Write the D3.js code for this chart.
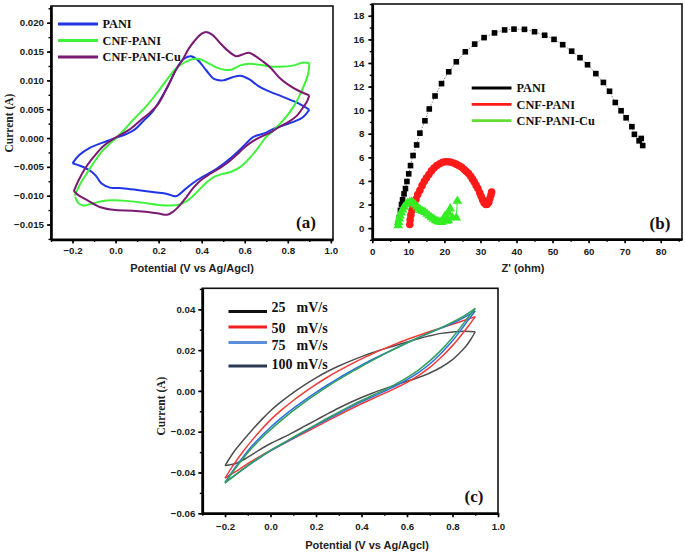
<!DOCTYPE html>
<html><head><meta charset="utf-8">
<script src="https://cdn.jsdelivr.net/npm/d3@7"></script>
<style>body{margin:0;background:#fff}svg{display:block}</style>
</head><body>
<svg id="fig" width="685" height="553"></svg>
<script>
// ---------------- DATA ----------------
// Panel (a): CV of PANI, CNF-PANI, CNF-PANI-Cu  [E (V), I (A)]
const seriesA = ["PANI", "CNF-PANI", "CNF-PANI-Cu"];
const paniUp = [[-0.2,-0.0044],[-0.17,-0.0030],[-0.12,-0.0017],[-0.06,-0.0008],[0.0,0.0],[0.05,0.0007],[0.09,0.0015],[0.13,0.0030],[0.17,0.0045],[0.21,0.0068],[0.25,0.0095],[0.29,0.0125],[0.32,0.0138],[0.35,0.0142],[0.38,0.0136],[0.42,0.0118],[0.46,0.0102],[0.5,0.0100],[0.54,0.0105],[0.58,0.0108],[0.62,0.0102],[0.66,0.0091],[0.70,0.0083],[0.78,0.0071],[0.85,0.0060],[0.9,0.0049]];
const paniDown = [[0.9,0.0049],[0.87,0.0036],[0.826,0.0028],[0.78,0.0022],[0.733,0.0016],[0.69,0.0008],[0.64,0.0002],[0.6,-0.0012],[0.55,-0.0030],[0.5,-0.0045],[0.45,-0.0058],[0.4,-0.0068],[0.36,-0.0078],[0.32,-0.0090],[0.28,-0.0101],[0.24,-0.0097],[0.18,-0.0094],[0.1,-0.0090],[0.03,-0.0087],[-0.026,-0.0086],[-0.065,-0.0079],[-0.09,-0.0066],[-0.12,-0.0056],[-0.165,-0.0048],[-0.2,-0.0044]];
const cnfUp = [[-0.19,-0.0100],[-0.165,-0.0080],[-0.135,-0.0062],[-0.1,-0.0042],[-0.07,-0.0026],[-0.03,-0.0011],[0.005,0.0001],[0.04,0.0014],[0.08,0.0031],[0.14,0.0054],[0.2,0.0082],[0.24,0.0102],[0.28,0.0120],[0.32,0.0131],[0.36,0.0137],[0.39,0.0137],[0.43,0.0130],[0.47,0.0122],[0.51,0.0118],[0.54,0.0119],[0.58,0.0126],[0.62,0.0129],[0.67,0.0127],[0.72,0.0124],[0.78,0.0124],[0.83,0.0126],[0.87,0.0131],[0.9,0.0130]];
const cnfDown = [[0.9,0.0130],[0.895,0.0112],[0.873,0.0089],[0.85,0.0070],[0.826,0.0054],[0.795,0.0038],[0.764,0.0025],[0.73,0.0012],[0.7,0.0002],[0.66,-0.0018],[0.62,-0.0036],[0.58,-0.0050],[0.54,-0.0058],[0.5,-0.0062],[0.46,-0.0067],[0.42,-0.0078],[0.38,-0.0093],[0.34,-0.0107],[0.3,-0.0115],[0.26,-0.0117],[0.2,-0.0116],[0.12,-0.0112],[0.05,-0.0109],[-0.01,-0.0108],[-0.07,-0.0110],[-0.12,-0.0115],[-0.15,-0.0117],[-0.175,-0.0112],[-0.188,-0.0102]];
const cuUp = [[-0.194,-0.0092],[-0.17,-0.0072],[-0.14,-0.0052],[-0.1,-0.0032],[-0.06,-0.0015],[-0.02,-0.0004],[0.02,0.0005],[0.07,0.0016],[0.12,0.0032],[0.16,0.0044],[0.2,0.0060],[0.24,0.0088],[0.28,0.0118],[0.31,0.0135],[0.34,0.0155],[0.37,0.0170],[0.4,0.0181],[0.42,0.0184],[0.45,0.0179],[0.48,0.0167],[0.52,0.0152],[0.56,0.0142],[0.59,0.0145],[0.62,0.0148],[0.65,0.0142],[0.68,0.0134],[0.72,0.0122],[0.76,0.0105],[0.8,0.0093],[0.85,0.0082],[0.9,0.0074]];
const cuDown = [[0.9,0.0074],[0.89,0.0064],[0.873,0.0054],[0.84,0.0038],[0.8,0.0027],[0.764,0.0020],[0.72,0.0010],[0.68,0.0003],[0.64,-0.0005],[0.6,-0.0016],[0.56,-0.0030],[0.52,-0.0043],[0.48,-0.0053],[0.44,-0.0062],[0.4,-0.0072],[0.36,-0.0087],[0.33,-0.0102],[0.3,-0.0116],[0.27,-0.0127],[0.24,-0.0133],[0.2,-0.0131],[0.14,-0.0128],[0.08,-0.0126],[0.0,-0.0125],[-0.07,-0.0120],[-0.13,-0.0108],[-0.17,-0.0100],[-0.194,-0.0092]];
const xTicksA = [-0.2,0.0,0.2,0.4,0.6,0.8,1.0];
const yTicksA = [-0.015,-0.010,-0.005,0.000,0.005,0.010,0.015,0.020];

// Panel (b): Nyquist plots  [Z' (ohm), -Z'' (ohm)]
const seriesB = ["PANI", "CNF-PANI", "CNF-PANI-Cu"];
const nyqPANI = [[7.2,0.35],[7.5,0.9],[7.8,1.5],[8.1,2.0],[8.4,2.4],[8.8,2.9],[9.2,3.35],[9.6,3.95],[10.1,4.6],[10.6,5.3],[11.3,6.15],[12.3,7.05],[13.2,8.05],[14.6,9.1],[15.8,10.1],[17.4,11.2],[19.2,12.25],[21.2,13.25],[23.3,14.1],[25.8,14.95],[28.4,15.6],[31.0,16.15],[33.9,16.55],[36.7,16.8],[39.3,16.87],[42.2,16.85],[45.0,16.65],[47.8,16.35],[50.4,16.0],[52.8,15.55],[55.3,15.0],[57.6,14.45],[59.7,13.85],[62.0,13.1],[64.1,12.35],[65.8,11.6],[67.4,10.65],[69.0,9.95],[70.4,9.35],[72.0,8.6],[72.7,7.95],[74.0,7.4],[74.6,7.6],[75.0,7.0]];
const nyqCNF = [[10.4,0.3],[10.5,0.7],[10.7,1.1],[11.0,1.5],[11.3,1.85],[11.7,2.2],[12.1,2.45],[12.6,2.85],[13.2,3.2],[13.8,3.6],[14.4,3.95],[15.0,4.25],[15.7,4.55],[16.4,4.85],[17.1,5.1],[17.9,5.3],[18.7,5.45],[19.5,5.58],[20.3,5.63],[21.1,5.63],[21.9,5.58],[22.7,5.5],[23.4,5.4],[24.1,5.28],[24.8,5.15],[25.5,4.97],[26.1,4.8],[26.7,4.62],[27.3,4.4],[27.8,4.15],[28.3,3.9],[28.8,3.62],[29.3,3.35],[29.8,3.0],[30.2,2.7],[30.6,2.4],[31.0,2.15],[31.5,2.0],[31.9,2.02],[32.3,2.2],[32.6,2.5],[32.9,2.8],[33.1,3.05]];
const nyqCu = [[7.2,0.22],[7.3,0.5],[7.5,0.8],[7.7,1.05],[8.0,1.3],[8.4,1.55],[8.8,1.8],[9.3,2.0],[9.8,2.12],[10.4,2.2],[10.9,2.2],[11.4,2.12],[11.9,1.98],[12.4,1.82],[12.9,1.65],[13.4,1.52],[14.0,1.42],[14.6,1.35],[15.2,1.2],[15.8,1.05],[16.4,0.9],[17.0,0.78],[17.6,0.65],[18.2,0.57],[18.8,0.52],[19.3,0.5],[19.8,0.75],[20.2,1.05],[20.6,0.6],[21.1,1.3],[21.6,1.65],[21.1,0.65],[22.2,0.9],[23.3,0.88],[23.6,2.3]];
const xTicksB = [0,10,20,30,40,50,60,70,80];
const yTicksB = [0,2,4,6,8,10,12,14,16,18];

// Panel (c): CV at different scan rates  [E (V), I (A)]
const seriesC = ["25", "50", "75", "100"];
const r25Up = [[-0.2,-0.0366],[-0.16,-0.0297],[-0.12,-0.0242],[-0.08,-0.0190],[-0.04,-0.0142],[0.0,-0.0097],[0.05,-0.0050],[0.1,-0.0008],[0.15,0.0030],[0.2,0.0064],[0.25,0.0095],[0.3,0.0122],[0.35,0.0146],[0.4,0.0168],[0.45,0.0188],[0.5,0.0206],[0.55,0.0223],[0.6,0.0240],[0.65,0.0256],[0.7,0.0270],[0.75,0.0282],[0.8,0.0289],[0.85,0.0292],[0.9,0.0290]];
const r25Down = [[0.9,0.0290],[0.88,0.0252],[0.86,0.0220],[0.83,0.0185],[0.8,0.0153],[0.75,0.0116],[0.7,0.0088],[0.65,0.0066],[0.6,0.0047],[0.55,0.0029],[0.5,0.0010],[0.45,-0.0010],[0.4,-0.0032],[0.35,-0.0057],[0.3,-0.0084],[0.25,-0.0113],[0.2,-0.0143],[0.15,-0.0173],[0.1,-0.0203],[0.05,-0.0231],[0.0,-0.0258],[-0.05,-0.0290],[-0.1,-0.0325],[-0.15,-0.0355],[-0.2,-0.0366]];
const r50Up = [[-0.2,-0.0428],[-0.16,-0.0358],[-0.12,-0.0296],[-0.08,-0.0240],[-0.04,-0.0189],[0.0,-0.0142],[0.05,-0.0092],[0.1,-0.0047],[0.15,-0.0006],[0.2,0.0032],[0.25,0.0067],[0.3,0.0099],[0.35,0.0129],[0.4,0.0157],[0.45,0.0183],[0.5,0.0207],[0.55,0.0230],[0.6,0.0252],[0.65,0.0272],[0.7,0.0291],[0.75,0.0309],[0.8,0.0327],[0.85,0.0345],[0.9,0.0364]];
const r50Down = [[0.9,0.0364],[0.87,0.0318],[0.84,0.0275],[0.8,0.0222],[0.75,0.0165],[0.7,0.0115],[0.65,0.0075],[0.6,0.0042],[0.55,0.0014],[0.5,-0.0012],[0.45,-0.0037],[0.4,-0.0063],[0.35,-0.0090],[0.3,-0.0118],[0.25,-0.0147],[0.2,-0.0176],[0.15,-0.0205],[0.1,-0.0234],[0.05,-0.0263],[0.0,-0.0292],[-0.05,-0.0323],[-0.1,-0.0357],[-0.15,-0.0393],[-0.2,-0.0428]];
const r75Up = [[-0.2,-0.0448],[-0.16,-0.0382],[-0.12,-0.0322],[-0.08,-0.0268],[-0.04,-0.0221],[0.0,-0.0178],[0.05,-0.0130],[0.1,-0.0086],[0.15,-0.0045],[0.2,-0.0007],[0.25,0.0029],[0.3,0.0063],[0.35,0.0095],[0.4,0.0126],[0.45,0.0155],[0.5,0.0183],[0.55,0.0210],[0.6,0.0236],[0.65,0.0261],[0.7,0.0285],[0.75,0.0308],[0.8,0.0331],[0.85,0.0359],[0.9,0.0392]];
const r75Down = [[0.9,0.0392],[0.87,0.0348],[0.84,0.0303],[0.8,0.0246],[0.75,0.0185],[0.7,0.0132],[0.65,0.0090],[0.6,0.0055],[0.55,0.0025],[0.5,-0.0002],[0.45,-0.0028],[0.4,-0.0054],[0.35,-0.0081],[0.3,-0.0110],[0.25,-0.0139],[0.2,-0.0169],[0.15,-0.0200],[0.1,-0.0231],[0.05,-0.0262],[0.0,-0.0294],[-0.05,-0.0329],[-0.1,-0.0368],[-0.15,-0.0408],[-0.2,-0.0448]];
const r100Up = [[-0.2,-0.0452],[-0.16,-0.0388],[-0.12,-0.0330],[-0.08,-0.0278],[-0.04,-0.0232],[0.0,-0.0190],[0.05,-0.0142],[0.1,-0.0097],[0.15,-0.0055],[0.2,-0.0016],[0.25,0.0021],[0.3,0.0056],[0.35,0.0089],[0.4,0.0121],[0.45,0.0151],[0.5,0.0180],[0.55,0.0208],[0.6,0.0235],[0.65,0.0261],[0.7,0.0286],[0.75,0.0310],[0.8,0.0337],[0.85,0.0367],[0.9,0.0405]];
const r100Down = [[0.9,0.0405],[0.87,0.0362],[0.84,0.0318],[0.8,0.0262],[0.75,0.0200],[0.7,0.0147],[0.65,0.0102],[0.6,0.0065],[0.55,0.0033],[0.5,0.0005],[0.45,-0.0021],[0.4,-0.0047],[0.35,-0.0075],[0.3,-0.0104],[0.25,-0.0134],[0.2,-0.0165],[0.15,-0.0196],[0.1,-0.0227],[0.05,-0.0259],[0.0,-0.0291],[-0.05,-0.0327],[-0.1,-0.0366],[-0.15,-0.0408],[-0.2,-0.0452]];
const xTicksC = [-0.2,0.0,0.2,0.4,0.6,0.8,1.0];
const yTicksC = [-0.06,-0.04,-0.02,0.00,0.02,0.04];

// ---------------- DRAW ----------------
const svg = d3.select("#fig");
svg.append("rect").attr("width",685).attr("height",553).attr("fill","#fff");
const SANS = "'Liberation Sans', Arial, sans-serif";
const SERIF = "'Liberation Serif', 'Times New Roman', serif";

function panel(o) {
  const x = d3.scaleLinear().domain(o.xd).range([o.x0, o.x1]);
  const y = d3.scaleLinear().domain(o.yd).range([o.y1, o.y0]);
  const g = svg.append("g");
  g.append("rect").attr("x",o.x0).attr("y",o.y0).attr("width",o.x1-o.x0).attr("height",o.y1-o.y0)
    .attr("fill","none").attr("stroke","#111").attr("stroke-width",1.6);
  const styleAxis = (sel) => {
    sel.select(".domain").attr("stroke","#000").attr("stroke-width",2.6);
    sel.selectAll(".tick line").attr("stroke","#000").attr("stroke-width",1.6);
    sel.selectAll(".tick text").attr("font-family",SANS).attr("font-weight","bold")
      .attr("font-size","9.7px").attr("fill","#1a1a1a");
  };
  g.append("g").attr("transform",`translate(0,${o.y1})`)
    .call(d3.axisBottom(x).tickValues(o.xMinor).tickSize(2.5).tickSizeOuter(0).tickFormat(""))
    .call(s=>{s.select(".domain").remove(); s.selectAll(".tick line").attr("stroke","#000").attr("stroke-width",1.4);});
  g.append("g").attr("transform",`translate(${o.x0},0)`)
    .call(d3.axisLeft(y).tickValues(o.yMinor).tickSize(2.5).tickSizeOuter(0).tickFormat(""))
    .call(s=>{s.select(".domain").remove(); s.selectAll(".tick line").attr("stroke","#000").attr("stroke-width",1.4);});
  g.append("g").attr("transform",`translate(0,${o.y1})`)
    .call(d3.axisBottom(x).tickValues(o.xt).tickSize(4).tickSizeOuter(0).tickPadding(o.xPad).tickFormat(d3.format(o.xf)))
    .call(styleAxis);
  g.append("g").attr("transform",`translate(${o.x0},0)`)
    .call(d3.axisLeft(y).tickValues(o.yt).tickSize(4).tickSizeOuter(0).tickPadding(o.yPad).tickFormat(d3.format(o.yf)))
    .call(styleAxis);
  return {g, x, y};
}

function minorVals(lo, hi, step) {
  const out = [];
  const n = Math.round((hi - lo) / step);
  for (let i = 0; i <= n; i++) out.push(+(lo + i * step).toFixed(6));
  return out;
}

// ---- Panel (a)
{
  const P = panel({x0:51, x1:333, y0:6, y1:239.5, xd:[-0.3,1.01], yd:[-0.0176,0.0229],
    xt:xTicksA, yt:yTicksA, xf:".1f", yf:".3f", xPad:4, yPad:3,
    xMinor:minorVals(-0.3,1.0,0.1), yMinor:minorVals(-0.0175,0.0225,0.0025)});
  const line = d3.line().x(d=>P.x(d[0])).y(d=>P.y(d[1])).curve(d3.curveCatmullRom.alpha(0.5));
  const colA = ["#1f35e6", "#3ff23a", "#7b1a72"];
  const loops = [[paniUp,paniDown],[cnfUp,cnfDown],[cuUp,cuDown]];
  loops.forEach((lp,i)=>lp.forEach(arr=>P.g.append("path").attr("d",line(arr)).attr("fill","none")
      .attr("stroke",colA[i]).attr("stroke-width",2)));
  const leg = P.g.append("g");
  seriesA.forEach((s,i)=>{
    const yy = 24 + i*16.5;
    leg.append("line").attr("x1",58).attr("x2",98).attr("y1",yy).attr("y2",yy).attr("stroke",colA[i]).attr("stroke-width",2.8);
    leg.append("text").attr("x",102.5).attr("y",yy+4.3).text(s).attr("font-family",SERIF)
      .attr("font-weight","bold").attr("font-size","12.3px").attr("fill","#111");
  });
  P.g.append("text").attr("x",306).attr("y",228).attr("text-anchor","middle").text("(a)")
    .attr("font-family",SERIF).attr("font-weight","bold").attr("font-size","17px").attr("fill","#111");
  P.g.append("text").attr("x",192).attr("y",272).attr("text-anchor","middle").text("Potential (V vs Ag/Agcl)")
    .attr("font-family",SANS).attr("font-weight","bold").attr("font-size","11px").attr("fill","#222");
  P.g.append("text").attr("transform","translate(12.5,123) rotate(-90)").attr("text-anchor","middle").text("Current (A)")
    .attr("font-family",SERIF).attr("font-weight","bold").attr("font-size","11.5px").attr("fill","#222");
}

// ---- Panel (b)
{
  const P = panel({x0:372.3, x1:682, y0:4, y1:239.3, xd:[0,85.9], yd:[-0.95,19],
    xt:xTicksB, yt:yTicksB, xf:"d", yf:"d", xPad:5, yPad:4,
    xMinor:minorVals(0,85,5), yMinor:minorVals(-1,19,1)});
  const x = P.x, y = P.y;
  const line = d3.line().x(d=>x(d[0])).y(d=>y(d[1]));
  P.g.append("path").attr("d",line(nyqPANI)).attr("fill","none").attr("stroke","#666")
    .attr("stroke-width",0.8).attr("stroke-dasharray","1.5,1.5");
  P.g.append("path").attr("d",line(nyqCNF)).attr("fill","none").attr("stroke","#f33").attr("stroke-width",1);
  P.g.append("path").attr("d",line(nyqCu)).attr("fill","none").attr("stroke","#3e3").attr("stroke-width",1);
  P.g.append("g").selectAll("rect").data(nyqPANI).join("rect")
    .attr("x",d=>x(d[0])-2.8).attr("y",d=>y(d[1])-2.8).attr("width",5.6).attr("height",5.6).attr("fill","#000");
  P.g.append("g").selectAll("circle").data(nyqCNF).join("circle")
    .attr("cx",d=>x(d[0])).attr("cy",d=>y(d[1])).attr("r",3.8).attr("fill","#ff1a1a");
  const tri = d3.symbol().type(d3.symbolTriangle).size(40);
  P.g.append("g").selectAll("path").data(nyqCu).join("path")
    .attr("transform",d=>`translate(${x(d[0])},${y(d[1])})`).attr("d",tri).attr("fill","#33ee22");
  const colB = ["#000", "#ff1a1a", "#66dd33"];
  seriesB.forEach((s,i)=>{
    const yy = 88 + i*16.3;
    P.g.append("line").attr("x1",471.7).attr("x2",511.5).attr("y1",yy).attr("y2",yy).attr("stroke",colB[i]).attr("stroke-width",2.8);
    P.g.append("text").attr("x",516.5).attr("y",yy+4.3).text(s).attr("font-family",SERIF)
      .attr("font-weight","bold").attr("font-size","12.3px").attr("fill","#111");
  });
  P.g.append("text").attr("x",660).attr("y",229).attr("text-anchor","middle").text("(b)")
    .attr("font-family",SERIF).attr("font-weight","bold").attr("font-size","17px").attr("fill","#111");
  P.g.append("text").attr("x",523).attr("y",272).attr("text-anchor","middle").text("Z' (ohm)")
    .attr("font-family",SANS).attr("font-weight","bold").attr("font-size","11px").attr("fill","#222");
}

// ---- Panel (c)
{
  const P = panel({x0:202.3, x1:498, y0:288.3, y1:513.3, xd:[-0.3,1.0], yd:[-0.06,0.0503],
    xt:xTicksC, yt:yTicksC, xf:".1f", yf:".2f", xPad:6, yPad:3,
    xMinor:minorVals(-0.3,1.0,0.1), yMinor:minorVals(-0.06,0.05,0.01)});
  const line = d3.line().x(d=>P.x(d[0])).y(d=>P.y(d[1])).curve(d3.curveCatmullRom.alpha(0.5));
  const colC = ["#4f4f4f", "#f03a3a", "#2f6fe3", "#2f9f5c"];
  const loops = [[r25Up,r25Down],[r50Up,r50Down],[r75Up,r75Down],[r100Up,r100Down]];
  loops.forEach((lp,i)=>lp.forEach(arr=>P.g.append("path").attr("d",line(arr)).attr("fill","none")
      .attr("stroke",colC[i]).attr("stroke-width",1.5)));
  const legCol = ["#111", "#f01e1e", "#5b8fdc", "#2a3a55"];
  const legY = [311.5, 327, 342.5, 366];
  const txtDy = [0.5, 5.5, 7.5, 3];
  seriesC.forEach((s,i)=>{
    P.g.append("line").attr("x1",228.5).attr("x2",267).attr("y1",legY[i]).attr("y2",legY[i]).attr("stroke",legCol[i]).attr("stroke-width",2.8);
    P.g.append("text").attr("x",271.5).attr("y",legY[i]+txtDy[i]).text(s).attr("font-family",SERIF)
      .attr("font-weight","bold").attr("font-size","14px").attr("fill","#111");
    P.g.append("text").attr("x",296.5).attr("y",legY[i]+txtDy[i]).text("mV/s").attr("font-family",SERIF)
      .attr("font-weight","bold").attr("font-size","14px").attr("fill","#111");
  });
  P.g.append("text").attr("x",474).attr("y",502).attr("text-anchor","middle").text("(c)")
    .attr("font-family",SERIF).attr("font-weight","bold").attr("font-size","17px").attr("fill","#111");
  P.g.append("text").attr("x",367).attr("y",549).attr("text-anchor","middle").text("Potential (V vs Ag/Agcl)")
    .attr("font-family",SANS).attr("font-weight","bold").attr("font-size","11px").attr("fill","#222");
  P.g.append("text").attr("transform","translate(165,406) rotate(-90)").attr("text-anchor","middle").text("Current (A)")
    .attr("font-family",SERIF).attr("font-weight","bold").attr("font-size","11.5px").attr("fill","#222");
}
</script>
</body></html>
